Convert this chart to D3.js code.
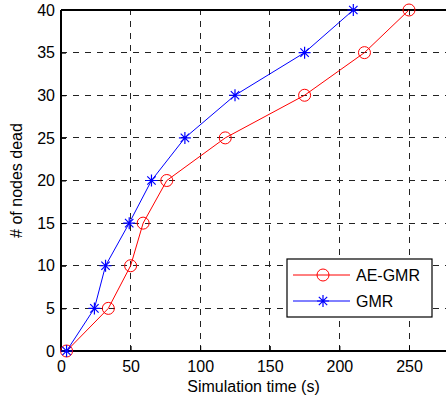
<!DOCTYPE html>
<html>
<head>
<meta charset="utf-8">
<script src="https://cdn.jsdelivr.net/npm/d3@7"></script>
<style>
  body { margin: 0; background: #fff; }
  text { font-family: "Liberation Sans", Arial, sans-serif; }
</style>
</head>
<body>
<div id="chart"></div>
<script>
// data
const aeTime = [4, 34, 50, 59, 76, 118, 175, 218, 250];
const aeDead = [0, 5, 10, 15, 20, 25, 30, 35, 40];
const gmrTime = [4, 24, 32, 49, 65, 89, 125, 175, 210];
const gmrDead = [0, 5, 10, 15, 20, 25, 30, 35, 40];
const xTicks = [0, 50, 100, 150, 200, 250];
const yTicks = [0, 5, 10, 15, 20, 25, 30, 35, 40];
const seriesNames = ['AE-GMR', 'GMR'];

document.addEventListener('DOMContentLoaded', function(){
    drawChart();
});

function drawChart() {
    const W = 446, H = 403, FS = 16;
    const svg = d3.select('#chart').append('svg').attr('width', W).attr('height', H);

    let x = d3.scaleLinear().domain([0, 300]).range([61, 478.6]);
    let y = d3.scaleLinear().domain([0, 40]).range([351, 10]);

    // grid
    const grid = svg.append('g');
    grid.selectAll('.vg').data(xTicks.slice(1)).enter().append('line')
        .attr('x1', d => x(d)).attr('x2', d => x(d))
        .attr('y1', y(0)).attr('y2', y(40))
        .attr('stroke', '#222').attr('stroke-width', 1).attr('stroke-dasharray', '6,6')
        .attr('shape-rendering', 'crispEdges');
    grid.selectAll('.hg').data(yTicks.slice(1, -1)).enter().append('line')
        .attr('x1', x(0)).attr('x2', W)
        .attr('y1', d => y(d)).attr('y2', d => y(d))
        .attr('stroke', '#222').attr('stroke-width', 1).attr('stroke-dasharray', '6,6')
        .attr('shape-rendering', 'crispEdges');

    // axes
    const xAxis = d3.axisBottom(x).tickValues(xTicks).tickSize(-5).tickPadding(10);
    const yAxis = d3.axisLeft(y).tickValues(yTicks).tickSize(-5).tickPadding(6);
    const gx = svg.append('g').attr('transform', 'translate(0,' + y(0) + ')').call(xAxis);
    const gy = svg.append('g').attr('transform', 'translate(' + x(0) + ',0)').call(yAxis);
    [gx, gy].forEach(g => {
        g.select('.domain').remove();
        g.selectAll('line').attr('stroke', '#000');
        g.selectAll('text').attr('font-size', FS).attr('fill', '#000')
            .attr('font-family', '"Liberation Sans", Arial, sans-serif');
    });
    // frame
    svg.append('line').attr('x1', x(0)).attr('x2', W).attr('y1', y(0)).attr('y2', y(0))
        .attr('stroke', '#000').attr('stroke-width', 2);
    svg.append('line').attr('x1', x(0)).attr('x2', W).attr('y1', y(40)).attr('y2', y(40))
        .attr('stroke', '#000').attr('stroke-width', 2);
    svg.append('line').attr('x1', x(0)).attr('x2', x(0)).attr('y1', y(0)).attr('y2', y(40))
        .attr('stroke', '#000').attr('stroke-width', 2);

    const line = d3.line().x(d => x(d[0])).y(d => y(d[1]));
    const ae = aeTime.map((t, i) => [t, aeDead[i]]);
    const gm = gmrTime.map((t, i) => [t, gmrDead[i]]);

    svg.append('path').datum(ae).attr('d', line).attr('fill', 'none').attr('stroke', '#ff0000').attr('stroke-width', 1);
    svg.append('path').datum(gm).attr('d', line).attr('fill', 'none').attr('stroke', '#0000ff').attr('stroke-width', 1);

    function star(g, cx, cy) {
        const r = 6;
        g.append('path')
            .attr('d', 'M' + (cx - r) + ',' + cy + 'H' + (cx + r) +
                'M' + cx + ',' + (cy - r) + 'V' + (cy + r) +
                'M' + (cx - r * 0.7) + ',' + (cy - r * 0.7) + 'L' + (cx + r * 0.7) + ',' + (cy + r * 0.7) +
                'M' + (cx - r * 0.7) + ',' + (cy + r * 0.7) + 'L' + (cx + r * 0.7) + ',' + (cy - r * 0.7))
            .attr('stroke', '#0000ff').attr('stroke-width', 1.2).attr('fill', 'none');
    }

    svg.selectAll('.ae').data(ae).enter().append('circle')
        .attr('cx', d => x(d[0])).attr('cy', d => y(d[1])).attr('r', 6)
        .attr('fill', 'none').attr('stroke', '#ff0000').attr('stroke-width', 1);
    const stars = svg.append('g');
    gm.forEach(d => star(stars, x(d[0]), y(d[1])));

    // labels
    svg.append('text').attr('x', 253.5).attr('y', 392).attr('text-anchor', 'middle')
        .attr('font-size', FS).text('Simulation time (s)');
    svg.append('text').attr('transform', 'translate(22,' + ((y(0) + y(40)) / 2) + ') rotate(-90)')
        .attr('text-anchor', 'middle').attr('font-size', FS).text('# of nodes dead');

    // legend
    const lg = svg.append('g').attr('transform', 'translate(287,259)');
    lg.append('rect').attr('width', 145).attr('height', 58).attr('fill', '#fff')
        .attr('stroke', '#000').attr('stroke-width', 1.2);
    seriesNames.forEach((name, i) => {
        const ly = 16 + i * 26;
        const col = i === 0 ? '#ff0000' : '#0000ff';
        lg.append('line').attr('x1', 6).attr('x2', 63).attr('y1', ly).attr('y2', ly)
            .attr('stroke', col).attr('stroke-width', 1);
        if (i === 0) {
            lg.append('circle').attr('cx', 36).attr('cy', ly).attr('r', 6)
                .attr('fill', 'none').attr('stroke', col);
        } else {
            star(lg, 36, ly);
        }
        lg.append('text').attr('x', 69).attr('y', ly + 6).attr('font-size', FS).text(name);
    });
}
</script>
</body>
</html>
